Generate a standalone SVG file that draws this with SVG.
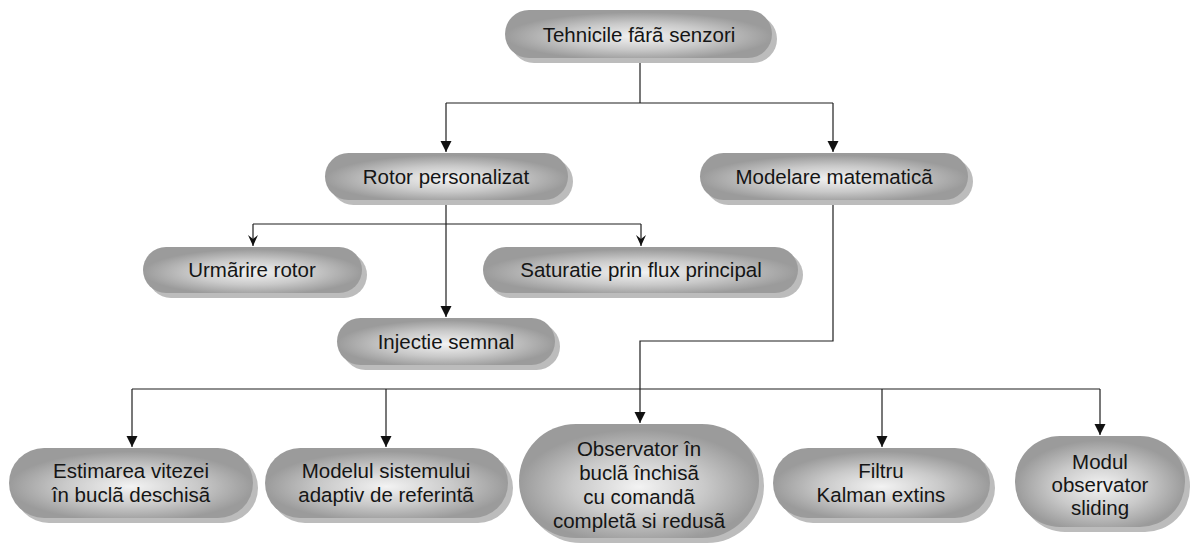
<svg xmlns="http://www.w3.org/2000/svg" width="1196" height="543" viewBox="0 0 1196 543">
  <style>
    .shadow { fill: #bcbcbc; }
    .body { fill: url(#g); }
    .t { font-family: "Liberation Sans", Arial, sans-serif; font-size: 20.5px; fill: #151515; text-anchor: middle; }
    .c { fill: none; stroke: #1e1e1e; stroke-width: 1.2; }
  </style>
  <defs>
    <radialGradient id="g" cx="0.5" cy="0.55" r="0.5">
      <stop offset="0" stop-color="#f3f3f3"/>
      <stop offset="0.55" stop-color="#c9c9c9"/>
      <stop offset="1" stop-color="#9b9b9b"/>
    </radialGradient>
    <marker id="a" markerWidth="12" markerHeight="12" refX="11" refY="6" orient="auto" markerUnits="userSpaceOnUse">
      <path d="M0,0.5 L11,6 L0,11.5 Z" fill="#111"/>
    </marker>
    <marker id="s" markerWidth="12" markerHeight="12" refX="11" refY="6" orient="auto" markerUnits="userSpaceOnUse">
      <path d="M0,1 L11,6 L0,11 L4,6 Z" fill="#111"/>
    </marker>
  </defs>

  <g id="connectors">
    <path class="c" d="M640,58 V103"/>
    <path class="c" d="M446,103 H833"/>
    <path class="c" d="M446,103 V152" marker-end="url(#a)"/>
    <path class="c" d="M833,103 V152" marker-end="url(#a)"/>
    <path class="c" d="M446,200 V317" marker-end="url(#a)"/>
    <path class="c" d="M253,224 H641"/>
    <path class="c" d="M253,224 V246" marker-end="url(#s)"/>
    <path class="c" d="M641,224 V246" marker-end="url(#s)"/>
    <path class="c" d="M833,200 V341 H640 V389"/>
    <path class="c" d="M132,389 H1100"/>
    <path class="c" d="M132,389 V447" marker-end="url(#a)"/>
    <path class="c" d="M386,389 V447" marker-end="url(#a)"/>
    <path class="c" d="M640,389 V423" marker-end="url(#a)"/>
    <path class="c" d="M882,389 V447" marker-end="url(#a)"/>
    <path class="c" d="M1100,389 V435" marker-end="url(#a)"/>
  </g>

  <g id="n-tehnicile">
    <rect class="shadow" x="510" y="15" width="267" height="48" rx="24"/>
    <rect class="body" x="505" y="10" width="267" height="48" rx="24"/>
    <text class="t" x="639" y="42">Tehnicile fãrã senzori</text>
  </g>

  <g id="n-rotor">
    <rect class="shadow" x="330" y="158" width="243" height="47" rx="23.5"/>
    <rect class="body" x="325" y="153" width="243" height="47" rx="23.5"/>
    <text class="t" x="446" y="184">Rotor personalizat</text>
  </g>

  <g id="n-modelare">
    <rect class="shadow" x="705" y="158" width="268" height="47" rx="23.5"/>
    <rect class="body" x="700" y="153" width="268" height="47" rx="23.5"/>
    <text class="t" x="834" y="184">Modelare matematicã</text>
  </g>

  <g id="n-urmarire">
    <rect class="shadow" x="148" y="252" width="219" height="46" rx="23"/>
    <rect class="body" x="143" y="247" width="219" height="46" rx="23"/>
    <text class="t" x="252" y="277">Urmãrire rotor</text>
  </g>

  <g id="n-saturatie">
    <rect class="shadow" x="488" y="252" width="315" height="46" rx="23"/>
    <rect class="body" x="483" y="247" width="315" height="46" rx="23"/>
    <text class="t" x="641" y="277">Saturatie prin flux principal</text>
  </g>

  <g id="n-injectie">
    <rect class="shadow" x="342" y="323" width="218" height="47" rx="23.5"/>
    <rect class="body" x="337" y="318" width="218" height="47" rx="23.5"/>
    <text class="t" x="446" y="349">Injectie semnal</text>
  </g>

  <g id="n-estimarea">
    <rect class="shadow" x="14" y="453" width="244" height="70" rx="35"/>
    <rect class="body" x="9" y="448" width="244" height="70" rx="35"/>
    <text class="t" x="131" y="478">Estimarea vitezei</text>
    <text class="t" x="131" y="502">în buclã deschisã</text>
  </g>

  <g id="n-modelul">
    <rect class="shadow" x="270" y="453" width="243" height="70" rx="35"/>
    <rect class="body" x="265" y="448" width="243" height="70" rx="35"/>
    <text class="t" x="386" y="478">Modelul sistemului</text>
    <text class="t" x="386" y="502">adaptiv de referintã</text>
  </g>

  <g id="n-observator">
    <rect class="shadow" x="524" y="429" width="240" height="114" rx="57"/>
    <rect class="body" x="519" y="424" width="240" height="114" rx="57"/>
    <text class="t" x="639" y="456">Observator în</text>
    <text class="t" x="639" y="480">buclã închisã</text>
    <text class="t" x="639" y="504">cu comandã</text>
    <text class="t" x="639" y="528">completã si redusã</text>
  </g>

  <g id="n-filtru">
    <rect class="shadow" x="778" y="453" width="217" height="70" rx="35"/>
    <rect class="body" x="773" y="448" width="217" height="70" rx="35"/>
    <text class="t" x="881" y="478">Filtru</text>
    <text class="t" x="881" y="502">Kalman extins</text>
  </g>

  <g id="n-modul">
    <rect class="shadow" x="1020" y="441" width="170" height="91" rx="45"/>
    <rect class="body" x="1015" y="436" width="170" height="91" rx="45"/>
    <text class="t" x="1100" y="469">Modul</text>
    <text class="t" x="1100" y="492">observator</text>
    <text class="t" x="1100" y="515">sliding</text>
  </g>
</svg>
